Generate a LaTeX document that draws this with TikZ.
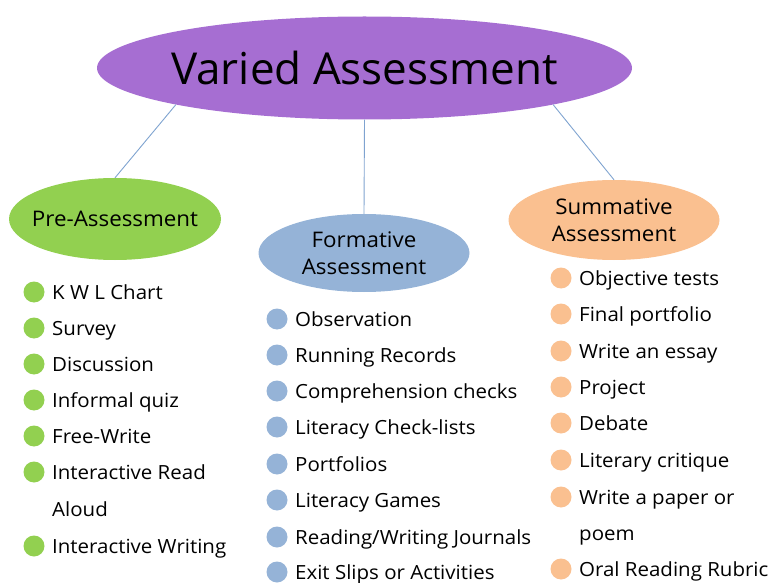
\documentclass[tikz,border=0pt]{standalone}
\usepackage{fontspec}
\setmainfont{Open Sans}
\newfontfamily\listfont[FakeStretch=1.05]{Open Sans}
\newfontfamily\ovalfont[FakeStretch=1.04]{Open Sans}
\usetikzlibrary{shapes.geometric}
\definecolor{topfill}{HTML}{A66ED2}
\definecolor{prefill}{HTML}{92D050}
\definecolor{formfill}{HTML}{95B3D7}
\definecolor{sumfill}{HTML}{FAC090}
\definecolor{linkcol}{HTML}{7FA3D0}
\tikzset{
  oval/.style={ellipse, inner sep=0pt},
  caption/.style={inner sep=0pt, align=center, text=black},
  subtitle/.style={caption, font=\ovalfont\fontsize{21.5}{27}\selectfont},
  link/.style={draw=linkcol, line width=0.9pt},
  dot/.style={circle, inner sep=0pt, minimum size=21pt},
  item/.style={anchor=base west, inner sep=0pt, font=\listfont\fontsize{19.5}{22}\selectfont},
}
\begin{document}
\begin{tikzpicture}[x=1pt,y=-1pt]
\useasboundingbox (0,0) rectangle (769,583);

% main heading and the three branches (ovals sized exactly, captions on top)
\node[oval, fill=topfill, minimum width=535pt, minimum height=103pt] (top) at (364.5,68) {};
\node[oval, fill=prefill, minimum width=212pt, minimum height=82pt] (pre) at (115,219) {};
\node[oval, fill=formfill, minimum width=211pt, minimum height=78pt] (form) at (364,253) {};
\node[oval, fill=sumfill, minimum width=211pt, minimum height=80pt] (sum) at (614,220) {};

\node[caption, font=\fontsize{44}{48}\selectfont] (topt) at (top.center) {Varied Assessment};
\node[subtitle] (pret) at (pre.center) {Pre-Assessment};
\node[subtitle] (formt) at (form.center) {Formative\\Assessment};
\node[subtitle] (sumt) at (sum.center) {Summative\\Assessment};

\draw[link] (top.191) -- (pre.north);
\draw[link] (top.south) -- (form.north);
\draw[link] (top.349) -- (sum.north);

% pre-assessment list
\foreach \t/\y [count=\i] in {K W L Chart/292, Survey/328, Discussion/364,
    Informal quiz/400, Free-Write/436, Interactive Read/472, Interactive Writing/546}{
  \node[dot, fill=prefill] (pd\i) at (34,\y) {};
  \node[item] (pt\i) at (52,\y+7) {\t};
}
\node[item] (ptx) at (52,509+7) {Aloud};

% formative list
\foreach \t/\y [count=\i] in {Observation/319, Running Records/355,
    Comprehension checks/391, Literacy Check-lists/427, Portfolios/464,
    Literacy Games/500, {Reading/Writing Journals}/537, Exit Slips or Activities/572}{
  \node[dot, fill=formfill] (fd\i) at (277,\y) {};
  \node[item] (ft\i) at (295,\y+7) {\t};
}

% summative list
\foreach \t/\y [count=\i] in {Objective tests/278, Final portfolio/314,
    Write an essay/351, Project/387, Debate/423, Literary critique/460,
    Write a paper or/497, Oral Reading Rubric/569}{
  \node[dot, fill=sumfill] (sd\i) at (561,\y) {};
  \node[item] (st\i) at (579,\y+7) {\t};
}
\node[item] (stx) at (579,533+7) {poem};
\end{tikzpicture}
\end{document}
